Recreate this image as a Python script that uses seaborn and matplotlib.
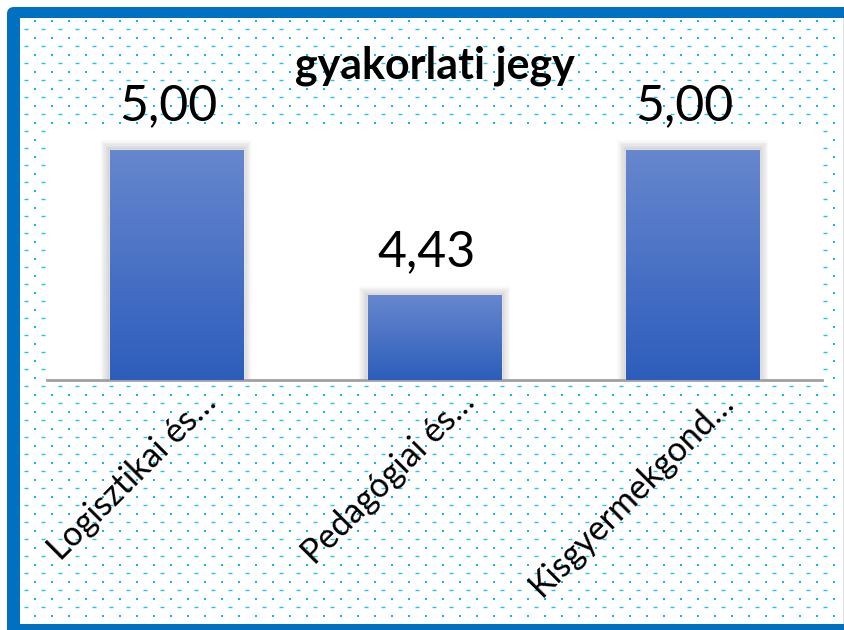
import numpy as np
import pandas as pd
import matplotlib
matplotlib.use('Agg')
import matplotlib.pyplot as plt
import seaborn as sns
from matplotlib.patches import FancyBboxPatch, Rectangle
from matplotlib.transforms import ScaledTranslation
from matplotlib.colors import LinearSegmentedColormap

# Data
categories = ['Logisztikai és…', 'Pedagógiai és…', 'Kisgyermekgond…']
values = [5.00, 4.43, 5.00]
title = 'gyakorlati jegy'

df = pd.DataFrame({'kategoria': categories, 'jegy': values})

sns.set_theme(style='white')
plt.rcParams['font.family'] = ['Lato', 'DejaVu Sans']

W, H = 845, 630
fig = plt.figure(figsize=(W / 100, H / 100), dpi=100)
fig.patch.set_facecolor('white')

# background: blue frame + dotted pattern (pixel coordinates)
bg = fig.add_axes([0, 0, 1, 1], zorder=0)
bg.set_xlim(0, W)
bg.set_ylim(H, 0)
bg.axis('off')
frame_col = '#0070C0'
bg.add_patch(FancyBboxPatch((7, 7), 22, 22, boxstyle='round,pad=0,rounding_size=7',
                            facecolor=frame_col, edgecolor='none', zorder=1))
bg.add_patch(Rectangle((20, 7), 825, 11, facecolor=frame_col, edgecolor='none', zorder=1))
bg.add_patch(Rectangle((7, 20), 13, 610, facecolor=frame_col, edgecolor='none', zorder=1))
bg.add_patch(Rectangle((7, 624), 838, 6, facecolor=frame_col, edgecolor='none', zorder=1))
bg.add_patch(Rectangle((20, 18), 12, 12, facecolor='white', edgecolor='none', zorder=2))

xs_a = np.arange(35, 840, 17.0)
xs_b = np.arange(26.5, 840, 17.0)
rows = np.arange(20.5, 624, 8.5)
for i, yy in enumerate(rows):
    if i % 2 == 0:
        bg.scatter(xs_a, np.full(len(xs_a), yy), marker='s', s=3.2, color='#00BEF2',
                   linewidths=0, zorder=3)
    else:
        bg.scatter(xs_b, np.full(len(xs_b), yy), marker='_', s=5, color='#1EC6F4',
                   linewidths=1.0, zorder=3)
# thin light line along the right edge
bg.add_patch(Rectangle((843, 18), 2, 606, facecolor='#D6E9F7', edgecolor='none', zorder=4))

# main plot area
ax = fig.add_axes([47 / W, 1 - 380 / H, (822 - 47) / W, (380 - 127) / H], zorder=2)
ax.set_facecolor('white')
sns.barplot(data=df, x='kategoria', y='jegy', color='#4472C4', width=0.515,
            saturation=1, ax=ax, zorder=3)
ax.set_xlim(-0.5, 2.5)
ax.set_ylim(4.1, 5.088)

cmap = LinearSegmentedColormap.from_list('bar', ['#2D5DBC', '#6787CE'])
grad = np.linspace(0, 1, 256).reshape(-1, 1)
for p in list(ax.patches):
    x0, y0 = p.get_x(), ax.get_ylim()[0]
    w, h = p.get_width(), p.get_height()
    top = p.get_y() + h
    # soft shadow
    for k in range(1, 8):
        dx = k * 1.3 / 258.3
        dy = k * 1.3 / 256.0
        ax.add_patch(Rectangle((x0 - dx, y0), w + 2 * dx, top - y0 + dy,
                               facecolor='black', edgecolor='none', alpha=0.025, zorder=2))
    im = ax.imshow(grad, cmap=cmap, origin='lower', aspect='auto',
                   extent=(x0, x0 + w, y0, top), zorder=4)
    im.set_clip_path(p)
ax.set_xlim(-0.5, 2.5)
ax.set_ylim(4.1, 5.088)

for i, v in enumerate(values):
    ax.annotate(f'{v:.2f}'.replace('.', ','), (i, v), xytext=(-8, 20),
                textcoords='offset pixels', ha='center', va='bottom',
                fontsize=36, color='black', annotation_clip=False)

ax.set_xlabel('')
ax.set_ylabel('')
ax.set_yticks([])
sns.despine(ax=ax, left=True, top=True, right=True)
ax.spines['bottom'].set_color('#A0A0A0')
ax.spines['bottom'].set_linewidth(2)
ax.tick_params(axis='x', length=0, pad=2)
ax.set_xticks(range(len(categories)))
ax.set_xticklabels(categories, rotation=45, ha='right', va='top',
                   rotation_mode='anchor', fontsize=24.5, color='black')
off = ScaledTranslation(0.24, -0.03, fig.dpi_scale_trans)
for lab in ax.get_xticklabels():
    lab.set_transform(lab.get_transform() + off)

fig.text(434.5 / W, 1 - 66 / H, title, ha='center', va='center',
         fontsize=31, fontweight='bold', color='black', zorder=5)

fig.savefig('out.png', dpi=100, facecolor='white')
